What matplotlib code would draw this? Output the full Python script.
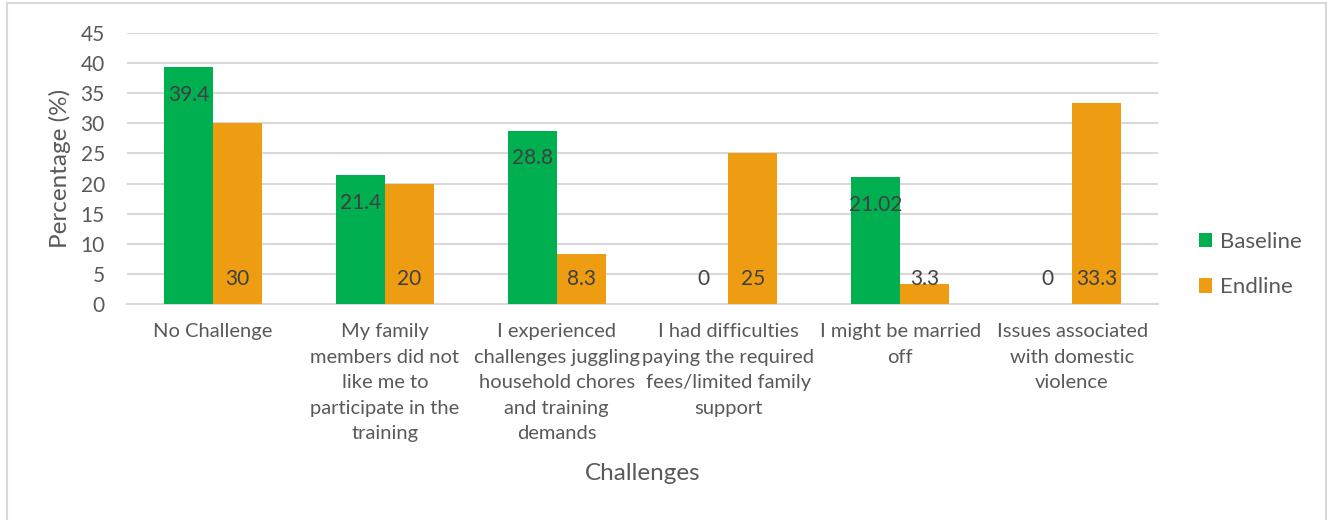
import matplotlib
matplotlib.use("Agg")
import matplotlib.pyplot as plt
from matplotlib.patches import Rectangle
import numpy as np

plt.rcParams['font.family'] = ['Lato', 'DejaVu Sans']

categories = [
    "No Challenge",
    "My family\nmembers did not\nlike me to\nparticipate in the\ntraining",
    "I experienced\nchallenges juggling\nhousehold chores\nand training\ndemands",
    "I had difficulties\npaying the required\nfees/limited family\nsupport",
    "I might be married\noff",
    "Issues associated\nwith domestic\nviolence",
]
baseline = [39.4, 21.4, 28.8, 0, 21.02, 0]
endline = [30, 20, 8.3, 25, 3.3, 33.3]
baseline_labels = ["39.4", "21.4", "28.8", "0", "21.02", "0"]
endline_labels = ["30", "20", "8.3", "25", "3.3", "33.3"]
yticks = [0, 5, 10, 15, 20, 25, 30, 35, 40, 45]

GREEN = "#00B050"
ORANGE = "#EE9D12"
TEXT = "#404040"
AXTEXT = "#595959"
GRID = "#D9D9D9"

fig = plt.figure(figsize=(13.33, 5.2), dpi=100)
ax = fig.add_axes([0.0953, 0.4154, 0.7734, 0.5211])

x = np.arange(len(categories))
w = 0.285
ax.bar(x - w / 2, baseline, w, color=GREEN, label="Baseline", zorder=3)
ax.bar(x + w / 2, endline, w, color=ORANGE, label="Endline", zorder=3)

# Baseline values sit just inside the top of each bar
for xi, v, s in zip(x, baseline, baseline_labels):
    if v > 0:
        ax.annotate(s, (xi - w / 2, v), xytext=(0, -20), textcoords="offset points",
                    ha="center", va="center", fontsize=15, color=TEXT, zorder=4)
    else:
        ax.annotate(s, (xi - w / 2, 0), xytext=(0, 18), textcoords="offset points",
                    ha="center", va="center", fontsize=15, color=TEXT, zorder=4)
# Endline values sit at the base of each bar
for xi, v, s in zip(x, endline, endline_labels):
    ax.annotate(s, (xi + w / 2, 0), xytext=(0, 18), textcoords="offset points",
                ha="center", va="center", fontsize=15, color=TEXT, zorder=4)

ax.set_xlim(-0.5, len(categories) - 0.5)
ax.set_ylim(0, 45)
ax.set_yticks(yticks)
ax.set_yticklabels([str(t) for t in yticks], fontsize=15, color=AXTEXT)
ax.set_xticks(x)
ax.set_xticklabels(categories, fontsize=14.5, color=AXTEXT, linespacing=1.6, va="top")
ax.tick_params(axis="both", length=0)
ax.tick_params(axis="x", pad=14)
ax.tick_params(axis="y", pad=16)
ax.grid(axis="y", color=GRID, linewidth=1.5, zorder=0)
for sp in ["top", "right", "left"]:
    ax.spines[sp].set_visible(False)
ax.spines["bottom"].set_color(GRID)
ax.spines["bottom"].set_linewidth(1.5)

ax.set_ylabel("Percentage (%)", fontsize=17.5, color=AXTEXT, va="center")
ax.yaxis.set_label_coords(-0.065, 0.5)
ax.set_xlabel("Challenges", fontsize=17.5, color=AXTEXT, va="center")
ax.xaxis.set_label_coords(0.5, -0.627)

leg = ax.legend(loc="center left", bbox_to_anchor=(1.02, 0.145), frameon=False,
                fontsize=16, handlelength=0.62, handleheight=0.62,
                labelspacing=1.15, handletextpad=0.35)
for t in leg.get_texts():
    t.set_color(AXTEXT)

fig.patches.append(Rectangle((0.005, -0.01), 0.99, 1.004, transform=fig.transFigure,
                             fill=False, edgecolor=GRID, linewidth=1.5))

fig.savefig("out.png", dpi=100, facecolor="white")
